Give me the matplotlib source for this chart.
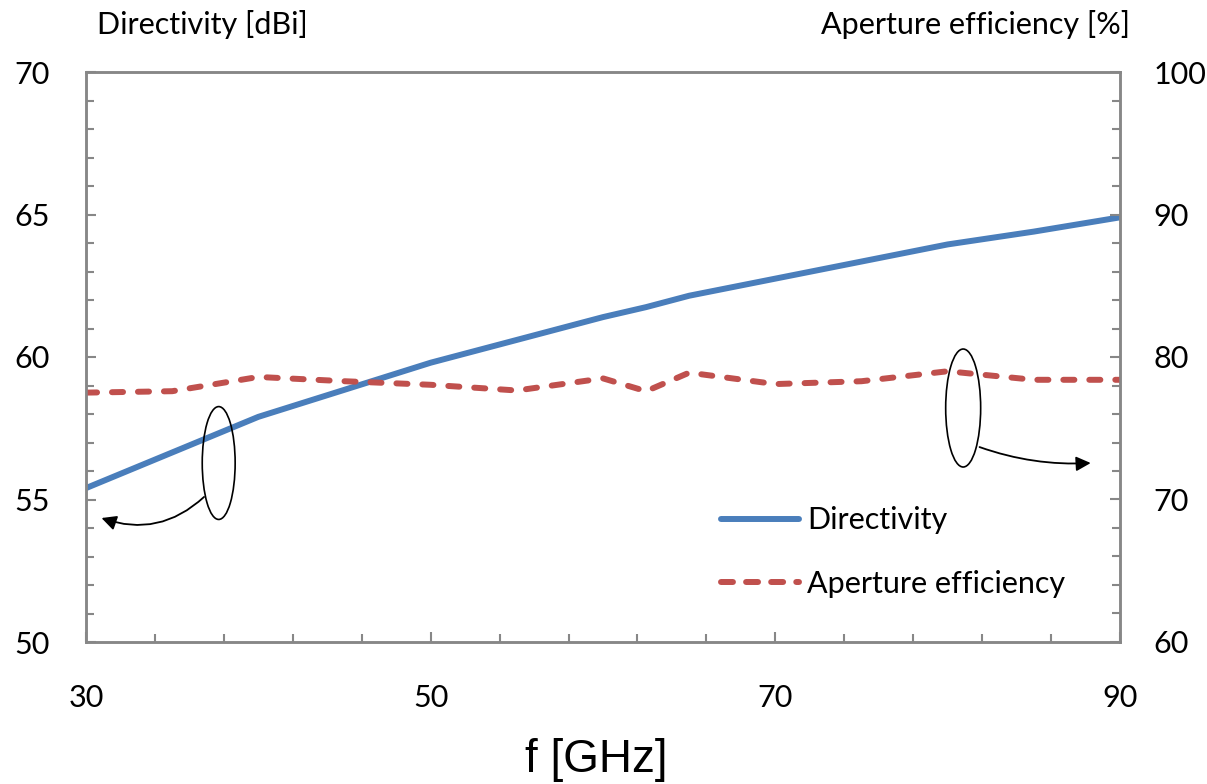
import matplotlib
matplotlib.use("Agg")
import matplotlib.pyplot as plt
from matplotlib.patches import Ellipse
from matplotlib.ticker import MultipleLocator, FixedLocator

# data
freq = [30, 35, 40, 45, 50, 55, 60, 62.5, 65, 70, 75, 80, 85, 90]
directivity = [55.4, 56.65, 57.9, 58.85, 59.8, 60.6, 61.4, 61.75, 62.15, 62.75, 63.35, 63.95, 64.4, 64.9]
efficiency = [77.5, 77.6, 78.6, 78.3, 78.05, 77.65, 78.5, 77.6, 78.9, 78.1, 78.3, 79.0, 78.4, 78.4]
x_ticks = [30, 50, 70, 90]
x_minor = list(range(30, 91, 4))

plt.rcParams['font.family'] = ['Lato', 'DejaVu Sans']

blue = '#4A7EBB'
red = '#C0504D'
grey = '#878787'
fs = 22

fig = plt.figure(figsize=(12.07, 7.84), dpi=100)
ax = fig.add_axes([86/1207, 1 - 642/784, (1120 - 86)/1207, (642 - 72)/784])
ax2 = ax.twinx()

l1, = ax.plot(freq, directivity, color=blue, lw=4.3, solid_capstyle='round', label='Directivity')
l2, = ax2.plot(freq, efficiency, color=red, lw=4.3, dashes=(1.85, 2.5),
               dash_capstyle='round', label='Aperture efficiency')

ax.set_xlim(30, 90)
ax.set_ylim(50, 70)
ax2.set_ylim(60, 100)

ax.xaxis.set_major_locator(FixedLocator(x_ticks))
ax.xaxis.set_minor_locator(FixedLocator(x_minor))
ax.yaxis.set_major_locator(MultipleLocator(5))
ax.yaxis.set_minor_locator(MultipleLocator(1))
ax2.yaxis.set_major_locator(MultipleLocator(10))
ax2.yaxis.set_minor_locator(MultipleLocator(2))

for a in (ax, ax2):
    for s in a.spines.values():
        s.set_color(grey)
        s.set_linewidth(1.8)
    a.tick_params(which='both', direction='in', color=grey, width=1.5, labelsize=fs)
    a.tick_params(which='major', length=7)
    a.tick_params(which='minor', length=6)

ax.tick_params(axis='y', which='both', right=False, pad=26)
ax.tick_params(axis='x', which='both', top=False, pad=30)
ax2.tick_params(axis='y', which='both', left=False, pad=24)

fig.text(97/1207, 1 - 34/784, 'Directivity [dBi]', fontsize=fs, va='baseline', ha='left')
fig.text(1130/1207, 1 - 34/784, 'Aperture efficiency [%]', fontsize=fs, va='baseline', ha='right')
fig.text(596/1207, 1 - 760/784, 'f [GHz]', fontsize=33, va='center', ha='center',
         family='Liberation Sans')

# ellipses and arrows pointing to the matching axes
ax.add_patch(Ellipse((37.7, 56.28), 1.91, 3.96, fill=False, ec='black', lw=1.2, zorder=5, clip_on=False))
ax.add_patch(Ellipse((80.9, 58.21), 2.03, 4.14, fill=False, ec='black', lw=1.2, zorder=5, clip_on=False))
ax.annotate('', xy=(30.9, 54.35), xytext=(36.85, 55.09),
            arrowprops=dict(arrowstyle='-|>', color='black', lw=1.3, mutation_scale=22,
                            shrinkA=0, shrinkB=0, connectionstyle='arc3,rad=-0.3'))
ax.annotate('', xy=(88.3, 56.28), xytext=(81.85, 56.84),
            arrowprops=dict(arrowstyle='-|>', color='black', lw=1.3, mutation_scale=22,
                            shrinkA=0, shrinkB=0, connectionstyle='arc3,rad=0.1'))

leg = ax2.legend([l1, l2], ['Directivity', 'Aperture efficiency'], loc='center left',
                 bbox_to_anchor=(721/1207, 1 - 552/784), bbox_transform=fig.transFigure,
                 frameon=False, fontsize=fs, handlelength=2.55, handletextpad=0.26,
                 labelspacing=1.15, borderpad=0, borderaxespad=0)
# three clean dashes in the legend key
leg.get_lines()[1].set_dashes((2.0, 2.2))

fig.savefig('out.png', dpi=100)
